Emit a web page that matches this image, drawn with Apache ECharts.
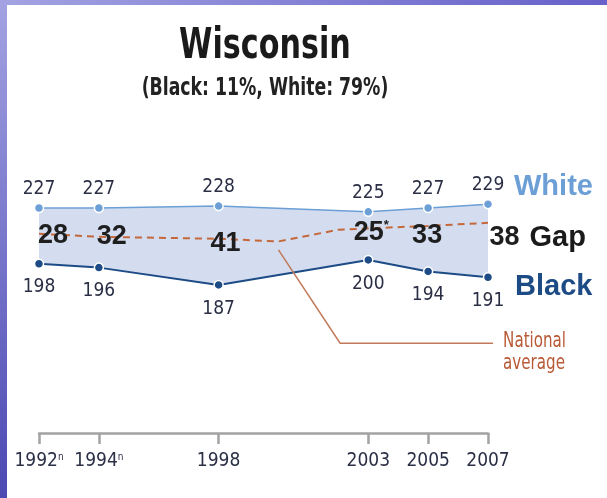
<!DOCTYPE html>
<html>
<head>
<meta charset="utf-8">
<script src="https://cdn.jsdelivr.net/npm/echarts@6/dist/echarts.min.js"></script>
<style>
  html, body { margin: 0; padding: 0; background: #fff; }
  #chart { width: 607px; height: 498px; }
</style>
</head>
<body>
<div id="chart"></div>
<script>
const years = [1992, 1994, 1998, 2003, 2005, 2007];
const yearNotes = ["n", "n", "", "", "", ""];
const whiteScores = [227, 227, 228, 225, 227, 229];
const blackScores = [198, 196, 187, 200, 194, 191];
const gapValues = [28, 32, 41, 25, 33, 38];
const gapNotes = ["", "", "", "*", "", ""];
// national average gap line, drawn on the score scale as in the original
const nationalYears = [1992, 1994, 1998, 2000, 2002, 2003, 2005, 2007];
const nationalLine = [213.6, 212.0, 211.0, 209.6, 215.7, 216.4, 217.7, 219.3];

const narrow = "'DejaVu Sans Condensed', 'Liberation Sans', sans-serif";
const sans = "'Liberation Sans', Arial, sans-serif";
const valueColor = "#2b2f45";

const chart = echarts.init(document.getElementById("chart"));

// label nudges for the gap numbers (x, y)
const gapShift = [[14, 14], [13, 13], [7, 12], [3, 11], [-1, 10], [0, -3]];

chart.setOption({
  animation: false,
  backgroundColor: "#fff",
  grid: { left: 39, right: 119, top: 183, bottom: 65 },
  xAxis: {
    type: "value",
    min: 1992,
    max: 2007,
    axisLine: { lineStyle: { color: "#a3a3a3", width: 2.5 } },
    axisTick: { customValues: years, length: 11, lineStyle: { color: "#a3a3a3", width: 2.5 } },
    splitLine: { show: false },
    axisLabel: {
      customValues: years,
      margin: 19,
      formatter: function (v) {
        const i = years.indexOf(v);
        return yearNotes[i] ? "{y|" + v + "}{n|" + yearNotes[i] + "}" : "{y|" + v + "}";
      },
      rich: {
        y: { fontFamily: narrow, fontSize: 19, color: valueColor },
        n: { fontFamily: narrow, fontSize: 10, color: valueColor, verticalAlign: "top" }
      }
    }
  },
  yAxis: { type: "value", min: 110, max: 240, show: false },
  series: [
    {
      name: "White", type: "line",
      data: years.map((y, i) => [y, whiteScores[i]]),
      symbol: "circle", symbolSize: 9,
      lineStyle: { color: "#6b9fd6", width: 1.5 },
      itemStyle: { color: "#6b9fd6", borderColor: "#fff", borderWidth: 1.5 },
      areaStyle: { color: "#d4ddef", opacity: 1, origin: 150 },
      label: { show: true, position: "top", distance: 4, fontFamily: narrow, fontSize: 19, color: valueColor },
      endLabel: {
        show: true, formatter: "White", distance: 26, offset: [0, -17],
        fontFamily: sans, fontSize: 29, fontWeight: "bold", color: "#6b9fd6"
      }
    },
    {
      name: "Black", type: "line",
      data: years.map((y, i) => [y, blackScores[i]]),
      symbol: "circle", symbolSize: 9,
      lineStyle: { color: "#1d4b85", width: 2 },
      itemStyle: { color: "#1d4b85", borderColor: "#fff", borderWidth: 1.5 },
      areaStyle: { color: "#ffffff", opacity: 1, origin: 150 },
      label: { show: true, position: "bottom", distance: 9, fontFamily: narrow, fontSize: 19, color: valueColor },
      endLabel: {
        show: true, formatter: "Black", distance: 27, offset: [0, 10],
        fontFamily: sans, fontSize: 29, fontWeight: "bold", color: "#1d4b85"
      }
    },
    {
      name: "National average", type: "line",
      data: nationalYears.map((y, i) => [y, nationalLine[i]]),
      symbol: "none",
      lineStyle: { color: "#c4683c", width: 2, type: [7, 5] }
    },
    {
      name: "Gap", type: "scatter", silent: true, z: 5,
      symbolSize: 1,
      itemStyle: { color: "#d4ddef", opacity: 1 },
      data: years.map((y, i) => {
        const item = { value: [y, (whiteScores[i] + blackScores[i]) / 2], label: { offset: gapShift[i] } };
        if (i === years.length - 1) item.label = { position: "right", distance: 1, offset: gapShift[i] };
        return item;
      }),
      label: {
        show: true, position: "top", distance: 0, color: "#1e1e1e",
        formatter: function (p) {
          const i = p.dataIndex;
          if (i === years.length - 1) return "{b|" + gapValues[i] + "}{g|Gap}";
          return gapNotes[i] ? "{b|" + gapValues[i] + "}{s|" + gapNotes[i] + "}" : "{b|" + gapValues[i] + "}";
        },
        rich: {
          b: { fontFamily: sans, fontSize: 27, fontWeight: "bold", color: "#1e1e1e" },
          s: { fontFamily: sans, fontSize: 13, fontWeight: "bold", color: "#1e1e1e", verticalAlign: "top" },
          g: { fontFamily: sans, fontSize: 29, fontWeight: "bold", color: "#1a1a1a", padding: [0, 0, 0, 10] }
        }
      }
    }
  ]
});

// leader from the national line to its note, in data units
const leader = [[2000, 205.2], [2002.06, 156.7], [2007.17, 156.7]];
const leaderPx = leader.map(p => chart.convertToPixel({ gridIndex: 0 }, p));
const end = leaderPx[leaderPx.length - 1];

chart.setOption({
  graphic: [
    {
      type: "rect", silent: true, z: 100,
      shape: { x: 0, y: 0, width: 7, height: 498 },
      style: { fill: new echarts.graphic.LinearGradient(0, 0, 0, 1, [{ offset: 0, color: "#a3a2e2" }, { offset: 1, color: "#4b49b3" }]) }
    },
    {
      type: "rect", silent: true, z: 100,
      shape: { x: 0, y: 0, width: 607, height: 5 },
      style: { fill: new echarts.graphic.LinearGradient(0, 0, 1, 0, [{ offset: 0, color: "#a3a2e2" }, { offset: 1, color: "#6761c9" }]) }
    },
    {
      type: "text", silent: true, z: 10,
      x: 265, y: 47, scaleX: 0.8,
      style: {
        text: "Wisconsin", fill: "#1a1a1a",
        font: "bold 42px 'DejaVu Sans Condensed', sans-serif",
        align: "center", verticalAlign: "middle"
      }
    },
    {
      type: "text", silent: true, z: 10,
      x: 265, y: 89, scaleX: 0.8,
      style: {
        text: "(Black: 11%, White: 79%)", fill: "#222",
        font: "bold 24px 'DejaVu Sans Condensed', sans-serif",
        align: "center", verticalAlign: "middle"
      }
    },
    {
      type: "polyline", silent: true, z: 5,
      shape: { points: leaderPx },
      style: { stroke: "#c2785a", lineWidth: 1.5, fill: null }
    },
    {
      type: "text", silent: true, z: 5,
      x: end[0] + 10, y: end[1] + 9, scaleX: 0.8,
      style: {
        text: "National\naverage", fill: "#b85a35",
        font: "21px 'DejaVu Sans Condensed', sans-serif",
        lineHeight: 22, verticalAlign: "middle", align: "left"
      }
    }
  ]
});

window.addEventListener("resize", () => {
  chart.resize();
});
</script>
</body>
</html>
